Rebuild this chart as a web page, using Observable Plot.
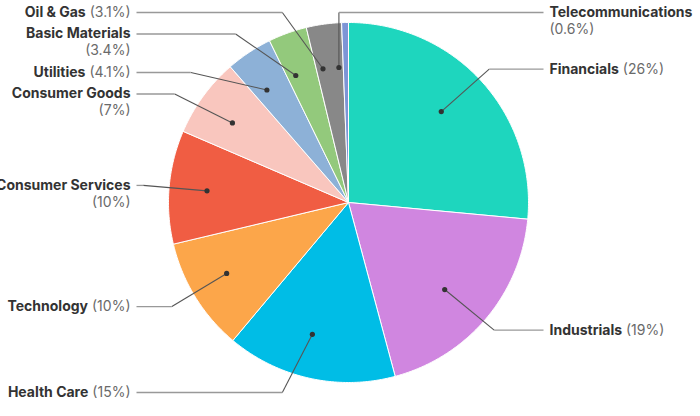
<!DOCTYPE html>
<html><head><meta charset="utf-8">
<script src="https://cdn.jsdelivr.net/npm/d3@7"></script>
<script src="https://cdn.jsdelivr.net/npm/@observablehq/plot@0.6"></script>
<style>html,body{margin:0;padding:0;background:#fff;overflow:hidden}</style>
</head><body><div id="chart"></div>
<script>
// ---- data ----
const categories = ["Financials","Industrials","Health Care","Technology","Consumer Services","Consumer Goods","Utilities","Basic Materials","Oil & Gas","Telecommunications"];
const values = [26, 19, 15, 10, 10, 7, 4.1, 3.4, 3.1, 0.6];
const palette = ["#1ed6be","#d086e0","#00bde6","#fca64a","#f05d43","#f9c6be","#8db1d7","#93c97c","#888888","#7d95d6"];

// ---- layout constants ----
const W = 700, H = 416;
const cx = 348, cy = 202, R = 180;      // pie
const lcx = 341;                         // label layout center
const dotR = 135, Re = 199, Rl = 198;
const lineH = 17, blockGap = 4.5, minY = 12, maxY = 392;
const FONT = "Inter";
const fs = 14;

const ctx = document.createElement("canvas").getContext("2d");
function tw(t, weight){ ctx.font = `${weight} ${fs}px ${FONT}`; return ctx.measureText(t).width; }
const fmt = v => v >= 5 ? d3.format(".0f")(v) : d3.format(".1f")(v);

const data = categories.map((c,i)=>({cat:c, value:values[i]}));
const arcs = d3.pie().sort(null).value(d=>d.value)(data);

// slice polygons
const slicePts = [];
for (const a of arcs) {
  const n = Math.max(2, Math.ceil((a.endAngle - a.startAngle) / (Math.PI/360)));
  slicePts.push({cat:a.data.cat, x:cx, y:cy});
  for (let k=0;k<=n;k++){
    const t = a.startAngle + (a.endAngle - a.startAngle)*k/n;
    slicePts.push({cat:a.data.cat, x:cx + R*Math.sin(t), y:cy - R*Math.cos(t)});
  }
  slicePts.push({cat:a.data.cat, x:cx, y:cy});
}

// labels
const maxW = 142;
const labels = arcs.map(a=>{
  const m = (a.startAngle + a.endAngle)/2;
  const name = a.data.cat, pct = `(${fmt(a.data.value)}%)`;
  const nw = tw(name, 700), pw = tw(pct, 400);
  const wrap = nw + 4 + pw > maxW;
  const lines = wrap ? 2 : 1;
  return {cat:name, name, pct, nw, pw, wrap, lines, m,
    side: Math.sin(m) > -0.05 ? 1 : -1,
    dx: lcx + dotR*Math.sin(m), dy: cy - dotR*Math.cos(m),
    ny: cy - Rl*Math.cos(m), h: lines*lineH + blockGap};
});
for (const s of [1,-1]) {
  const g = labels.filter(d=>d.side===s).sort((a,b)=>a.ny-b.ny);
  let prev = null;
  for (const d of g){ d.ly = Math.max(d.ny, minY, prev ? prev.ly + prev.h : -Infinity); prev = d; }
  for (let i=g.length-1;i>=0;i--){
    const d = g[i];
    const lim = i===g.length-1 ? maxY - (d.lines-1)*lineH : g[i+1].ly - d.h;
    d.ly = Math.min(d.ly, lim);
  }
}
for (const d of labels){
  const dy = d.ly - cy;
  const sg = Math.sin(d.m) >= 0 ? 1 : -1;
  let ex = lcx + sg*Math.sqrt(Math.max(0, Re*Re - dy*dy));
  ex = d.side === 1 ? Math.max(ex, d.dx) : Math.min(ex, d.dx);
  d.ex = ex;
  d.lx = d.side === 1 ? lcx + 202 : lcx - 205;
  d.tx = d.side === 1 ? d.lx + 6 : d.lx - 6;
  if (d.wrap){ d.nx = d.tx; d.px = d.tx; d.py = d.ly + lineH; }
  else if (d.side === 1){ d.nx = d.tx; d.px = d.tx + d.nw + 4; d.py = d.ly; }
  else { d.px = d.tx; d.nx = d.tx - d.pw - 4; d.py = d.ly; }
}
const right = labels.filter(d=>d.side===1), left = labels.filter(d=>d.side===-1);
const nameOpt = {fontFamily:FONT, fontSize:fs, fontWeight:700, fill:"#333"};
const pctOpt = {fontFamily:FONT, fontSize:fs, fontWeight:400, fill:"#6a6a6a"};

const chart = Plot.plot({
  width: W, height: H, margin: 0,
  x: {domain:[0,W], range:[0,W], axis:null},
  y: {domain:[0,H], range:[0,H], axis:null},
  color: {domain: categories, range: palette},
  style: {background:"#fff", fontFamily: FONT},
  marks: [
    Plot.line(slicePts, {x:"x", y:"y", z:"cat", fill:"cat", stroke:"#fff", strokeWidth:1, strokeLinejoin:"round"}),
    Plot.link(labels, {x1:"dx", y1:"dy", x2:"ex", y2:"ly", stroke:"#555", strokeWidth:1.1}),
    Plot.link(labels, {x1:"ex", y1:"ly", x2:"lx", y2:"ly", stroke:"#999", strokeWidth:1.3}),
    Plot.dot(labels, {x:"dx", y:"dy", r:2.6, fill:"#333", stroke:"none"}),
    Plot.text(right, {x:"nx", y:"ly", text:"name", textAnchor:"start", ...nameOpt}),
    Plot.text(left, {x:"nx", y:"ly", text:"name", textAnchor:"end", ...nameOpt}),
    Plot.text(right, {x:"px", y:"py", text:"pct", textAnchor:"start", ...pctOpt}),
    Plot.text(left, {x:"px", y:"py", text:"pct", textAnchor:"end", ...pctOpt})
  ]
});
document.getElementById("chart").appendChild(chart);
</script>
</body></html>
